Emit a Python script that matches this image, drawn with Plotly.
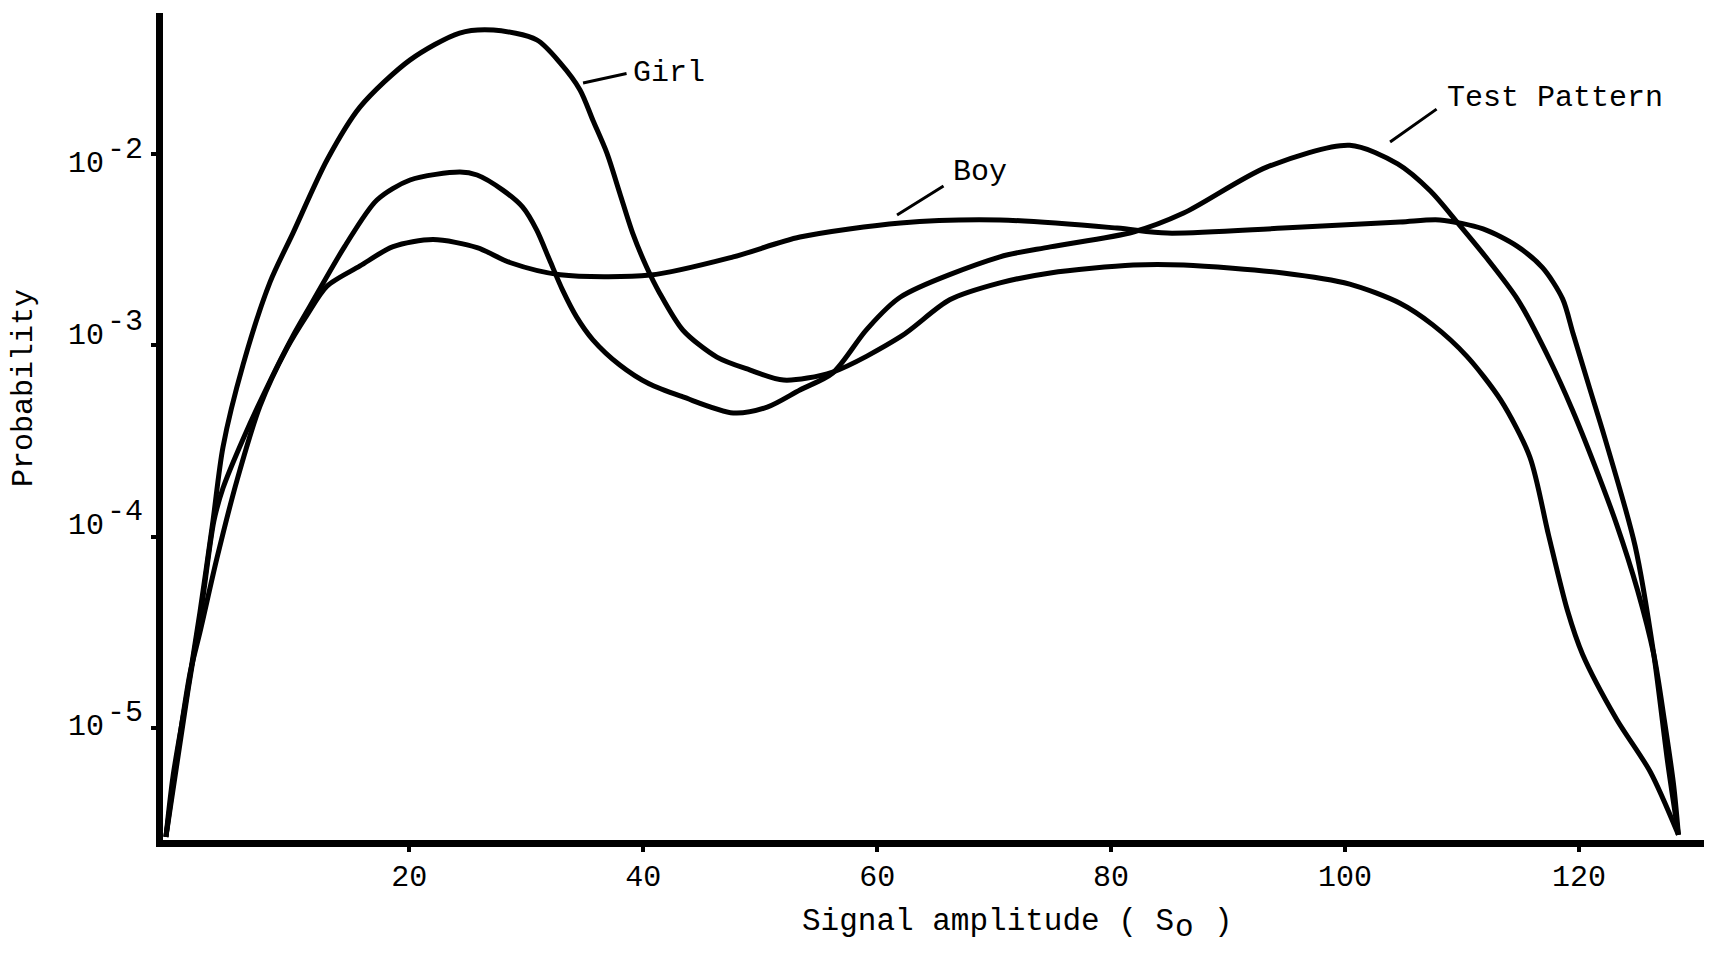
import math
import plotly.graph_objects as go

# ---------------- data ----------------
girl_x = [-0.8, -0.19, 1.0, 2.11, 3.22, 4.08, 5.79, 8.10, 10.06, 12.97, 15.8, 20.05, 24.3, 27.2,
          30.9, 32.9, 34.6, 35.7, 36.9, 38.0, 39.1, 40.3, 41.4, 43.4, 46.3, 49.1, 52.0, 56.2,
          62.0, 66.2, 70.5, 74.8, 81.9, 86.2, 94.7, 100.4, 104.7, 107.5, 110.4, 113.3, 115.8,
          117.4, 119.0, 120.3, 123.2, 126.1, 128.5]
girl_p = [2.71e-6, 5.64e-6, 1.51e-5, 4.05e-5, 1.21e-4, 2.95e-4, 7.91e-4, 2.14e-3, 3.86e-3, 9.29e-3,
          1.76e-2, 3.09e-2, 4.28e-2, 4.44e-2, 3.94e-2, 2.99e-2, 2.16e-2, 1.50e-2, 1.01e-2, 6.24e-3,
          3.86e-3, 2.56e-3, 1.88e-3, 1.20e-3, 8.69e-4, 7.45e-4, 6.59e-4, 7.26e-4, 1.11e-3, 1.73e-3,
          2.12e-3, 2.39e-3, 2.63e-3, 2.63e-3, 2.39e-3, 2.09e-3, 1.66e-3, 1.28e-3, 8.79e-4, 5.19e-4,
          2.61e-4, 1.02e-4, 4.15e-5, 2.44e-5, 1.12e-5, 5.92e-6, 2.78e-6]

test_x = [-0.8, 1.1, 2.2, 3.3, 4.08, 5.79, 8.09, 10.06, 11.51, 14.5, 17.24, 20.07, 24.34, 25.8,
          28.0, 29.7, 30.9, 32.0, 33.1, 34.3, 35.7, 38.0, 40.5, 43.4, 47.7, 50.6, 53.4, 56.2,
          59.1, 62.0, 70.5, 74.8, 81.9, 86.2, 93.3, 100.4, 104.5, 107.3, 109.7, 112.0, 114.8,
          117.5, 119.4, 121.3, 123.2, 125.0, 126.4, 127.3, 128.1, 128.5]
test_p = [2.71e-6, 1.6e-5, 4.1e-5, 1.21e-4, 1.80e-4, 3.24e-4, 6.50e-4, 1.12e-3, 1.6e-3, 3.3e-3,
          5.75e-3, 7.31e-3, 8.05e-3, 7.76e-3, 6.47e-3, 5.27e-3, 4.00e-3, 2.79e-3, 1.95e-3, 1.41e-3,
          1.07e-3, 7.9e-4, 6.3e-4, 5.38e-4, 4.44e-4, 4.76e-4, 5.85e-4, 7.18e-4, 1.21e-3, 1.79e-3,
          2.90e-3, 3.27e-3, 3.91e-3, 4.91e-3, 8.53e-3, 1.11e-2, 8.87e-3, 6.40e-3, 4.31e-3, 2.91e-3,
          1.72e-3, 8.39e-4, 4.66e-4, 2.40e-4, 1.17e-4, 5.28e-5, 2.42e-5, 1.10e-5, 5.0e-6, 2.78e-6]

boy_x = [-0.8, 0.15, 1.26, 2.11, 3.56, 5.28, 7.24, 9.55, 11.26, 12.97, 15.79, 18.62, 22.04, 25.8,
         28.6, 32.9, 40.6, 47.7, 53.4, 62.0, 70.5, 80.5, 84.8, 94.7, 104.7, 108.1, 111.8, 114.7,
         116.9, 118.6, 119.5, 120.9, 122.2, 124.8, 126.4, 127.6, 128.5]
boy_p = [2.71e-6, 7.18e-6, 1.94e-5, 3.18e-5, 7.74e-5, 1.98e-4, 4.82e-4, 9.68e-4, 1.44e-3, 2.04e-3,
         2.60e-3, 3.28e-3, 3.57e-3, 3.24e-3, 2.71e-3, 2.34e-3, 2.33e-3, 2.90e-3, 3.68e-3, 4.36e-3,
         4.52e-3, 4.10e-3, 3.86e-3, 4.10e-3, 4.41e-3, 4.52e-3, 4.06e-3, 3.30e-3, 2.54e-3, 1.75e-3,
         1.15e-3, 6.0e-4, 3.3e-4, 8.95e-5, 2.42e-5, 6.5e-6, 2.78e-6]

x_ticks = [20, 40, 60, 80, 100, 120]
y_ticks = [1e-5, 1e-4, 1e-3, 1e-2]
y_exps = ["-5", "-4", "-3", "-2"]
# hand-set vertical nudges (px) of the typed tick labels in the original
y_base_shift = [1, 11, 9, -10]
y_exp_shift = [15, 25, 23, 4]

# ---------------- figure ----------------
FONT = "Liberation Mono, Courier New, monospace"

fig = go.Figure()
for xs, ps, name in [(girl_x, girl_p, "Girl"), (test_x, test_p, "Test Pattern"), (boy_x, boy_p, "Boy")]:
    fig.add_trace(go.Scatter(x=xs, y=ps, mode="lines", name=name,
                             line=dict(color="black", width=5, shape="spline", smoothing=0.8),
                             showlegend=False))

fig.update_layout(
    width=1704, height=939,
    margin=dict(l=155, r=0, t=5, b=107),
    paper_bgcolor="white", plot_bgcolor="white",
    font=dict(family=FONT, size=30, color="black"),
    xaxis=dict(range=[-1.05, 131.37], tickvals=x_ticks, ticktext=[str(v) for v in x_ticks],
               showgrid=False, zeroline=False, showline=True, linewidth=7, linecolor="black",
               ticks="outside", ticklen=5, tickwidth=4, tickcolor="black",
               ticklabelstandoff=-2, tickfont=dict(family=FONT, size=30)),
    yaxis=dict(type="log", range=[-5.583, -1.264], tickvals=y_ticks, showticklabels=False,
               showgrid=False, zeroline=False, showline=True, linewidth=7, linecolor="black",
               ticks="outside", ticklen=5, tickwidth=4, tickcolor="black"),
)

ann = []
# y tick labels typed as "10" with a full-size raised exponent
for v, e, bs, es in zip(y_ticks, y_exps, y_base_shift, y_exp_shift):
    ly = math.log10(v)
    ann.append(dict(text="10", xref="paper", yref="y", x=0, y=ly, xanchor="right", yanchor="middle",
                    xshift=-57, yshift=bs, showarrow=False, font=dict(family=FONT, size=30)))
    ann.append(dict(text=e, xref="paper", yref="y", x=0, y=ly, xanchor="left", yanchor="middle",
                    xshift=-58, yshift=es, showarrow=False, font=dict(family=FONT, size=30)))
# x axis title: "Signal amplitude ( S" + lowered "o" + ")"
ann.append(dict(text="Signal amplitude ( S", xref="x", yref="paper", x=85.55, y=-0.099,
                showarrow=False, font=dict(family=FONT, size=31), xanchor="right", yanchor="middle"))
ann.append(dict(text="o", xref="x", yref="paper", x=86.3, y=-0.1064,
                showarrow=False, font=dict(family=FONT, size=31), xanchor="center", yanchor="middle"))
ann.append(dict(text=")", xref="x", yref="paper", x=88.6, y=-0.099,
                showarrow=False, font=dict(family=FONT, size=31), xanchor="left", yanchor="middle"))
ann.append(dict(text="Probability", xref="paper", yref="paper", x=-0.0897, y=0.5465, textangle=-90,
                showarrow=False, font=dict(family=FONT, size=30), xanchor="center", yanchor="middle"))
# curve labels
for txt, lx, ly in [("Girl", 42.2, -1.578), ("Boy", 68.8, -2.0945), ("Test Pattern", 117.96, -1.708)]:
    ann.append(dict(text=txt, xref="x", yref="y", x=lx, y=ly, showarrow=False,
                    font=dict(family=FONT, size=30), xanchor="center", yanchor="middle"))
# leader lines
for tx, ty, dx, dy in [(34.86, -1.630, 45, -10), (61.7, -2.319, 48, -30), (103.85, -1.938, 48, -34)]:
    ann.append(dict(text="", xref="x", yref="y", x=tx, y=ty, ax=dx, ay=dy, showarrow=True,
                    arrowhead=0, arrowwidth=3, arrowcolor="black", standoff=0, startstandoff=0))
fig.update_layout(annotations=ann)

fig.write_html("out.html")
